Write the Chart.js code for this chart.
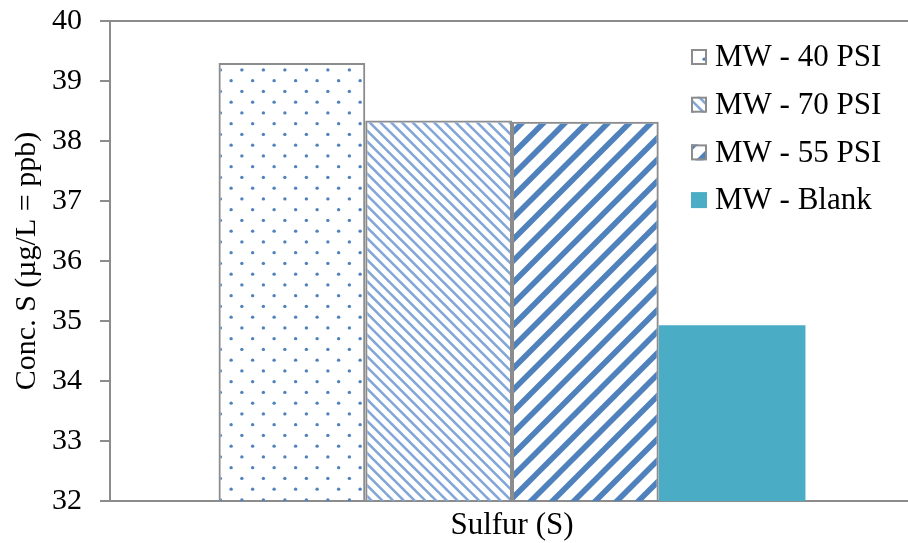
<!DOCTYPE html>
<html>
<head>
<meta charset="utf-8">
<script src="https://cdn.jsdelivr.net/npm/chart.js@4"></script>
<style>
  html, body { margin: 0; padding: 0; background: #fff; overflow: hidden; }
  #wrap { width: 908px; height: 543px; overflow: hidden; }
</style>
</head>
<body>
<div id="wrap"><canvas id="c" width="916" height="543"></canvas></div>
<script>
// ---- data ----
const categories = ['Sulfur (S)'];
const seriesNames = ['MW - 40 PSI', 'MW - 70 PSI', 'MW - 55 PSI', 'MW - Blank'];
const seriesValues = [[39.30], [38.34], [38.32], [34.93]];
const yTicks = [32, 33, 34, 35, 36, 37, 38, 39, 40];

const FONT = '"Liberation Serif", "Times New Roman", serif';
const BLUE = '#4F81BD';
const AQUA = '#4BACC6';
const GREY = '#8c8c8c';

function makeTile(draw) {
  const T = 43;
  const c = document.createElement('canvas');
  c.width = T; c.height = T;
  const g = c.getContext('2d');
  draw(g, T);
  return document.getElementById('c').getContext('2d').createPattern(c, 'repeat');
}
const dotPattern = makeTile((g, T) => {
  const s = T / 4;
  g.fillStyle = BLUE;
  for (let a = 0; a < 4; a++) for (let b = 0; b < 4; b++) {
    if ((a + b) % 2) continue;
    g.beginPath();
    g.arc((a + 0.5) * s, (b + 0.5) * s, 1.7, 0, Math.PI * 2);
    g.fill();
  }
});
const lightDown = makeTile((g, T) => {
  const P = T / 4;
  g.strokeStyle = '#82a6d8';
  g.lineWidth = 2.6;
  for (let k = -8; k <= 8; k++) {
    const c = k * P;
    g.beginPath(); g.moveTo(c - T, -T); g.lineTo(c + 2 * T, 2 * T); g.stroke();
  }
});
const wideUp = makeTile((g, T) => {
  const P = T / 2;
  g.strokeStyle = BLUE;
  g.lineWidth = 5.6;
  for (let k = -4; k <= 8; k++) {
    const c = k * P;
    g.beginPath(); g.moveTo(c + T, -T); g.lineTo(c - 2 * T, 2 * T); g.stroke();
  }
});

const fills = [dotPattern, lightDown, wideUp, AQUA];
const borders = [GREY, GREY, GREY, AQUA];
const borderWidths = [2, 2, 2, 0];

const datasets = seriesNames.map((n, i) => ({
  label: n,
  data: seriesValues[i],
  backgroundColor: fills[i],
  borderColor: borders[i],
  borderWidth: borderWidths[i],
  barPercentage: 1,
  categoryPercentage: 0.73
}));

const legendPlugin = {
  id: 'inLegend',
  afterDraw(chart) {
    const ctx = chart.ctx;
    const x0 = 691, y0 = 57, dy = 47.7, box = 16;
    ctx.save();
    chart.data.datasets.forEach((ds, i) => {
      const cy = y0 + i * dy;
      ctx.fillStyle = ds.backgroundColor;
      ctx.fillRect(x0, cy - box / 2, box, box);
      if (ds.borderWidth) {
        ctx.strokeStyle = ds.borderColor;
        ctx.lineWidth = 2;
        ctx.strokeRect(x0 + 1, cy - box / 2 + 1, box - 2, box - 2);
      }
      ctx.fillStyle = '#000';
      ctx.font = '31px ' + FONT;
      ctx.textBaseline = 'middle';
      ctx.textAlign = 'left';
      ctx.fillText(ds.label, 715, cy + 1);
    });
    ctx.restore();
  }
};

new Chart(document.getElementById('c'), {
  type: 'bar',
  data: { labels: categories, datasets },
  plugins: [legendPlugin],
  options: {
    responsive: false,
    animation: false,
    layout: { padding: { top: 21, right: 2, left: 0, bottom: 0 } },
    plugins: { legend: { display: false }, tooltip: { enabled: false } },
    scales: {
      x: {
        grid: { drawOnChartArea: false, drawTicks: false },
        border: { display: true, color: GREY, width: 2 },
        ticks: { color: '#000', font: { family: FONT, size: 31 }, padding: 6 },
        afterFit(s) { s.height = 42; s.paddingLeft = 0; s.paddingRight = 0; }
      },
      y: {
        min: yTicks[0],
        max: yTicks[yTicks.length - 1],
        afterBuildTicks(s) { s.ticks = yTicks.map(v => ({ value: v })); },
        grid: {
          color: c => (c.tick && c.tick.value === 40) ? GREY : 'rgba(0,0,0,0)',
          tickColor: GREY,
          lineWidth: 2,
          tickLength: 10,
          drawOnChartArea: true
        },
        border: { display: true, color: GREY, width: 2 },
        ticks: { color: '#000', font: { family: FONT, size: 30 }, padding: 18 },
        title: {
          display: true,
          text: 'Conc. S (µg/L = ppb)',
          color: '#000',
          font: { family: FONT, size: 30, lineHeight: 1 },
          padding: { top: 12, bottom: 0 }
        },
        afterFit(s) { s.width = 110; s.paddingTop = 0; s.paddingBottom = 0; }
      }
    }
  }
});
</script>
</body>
</html>
